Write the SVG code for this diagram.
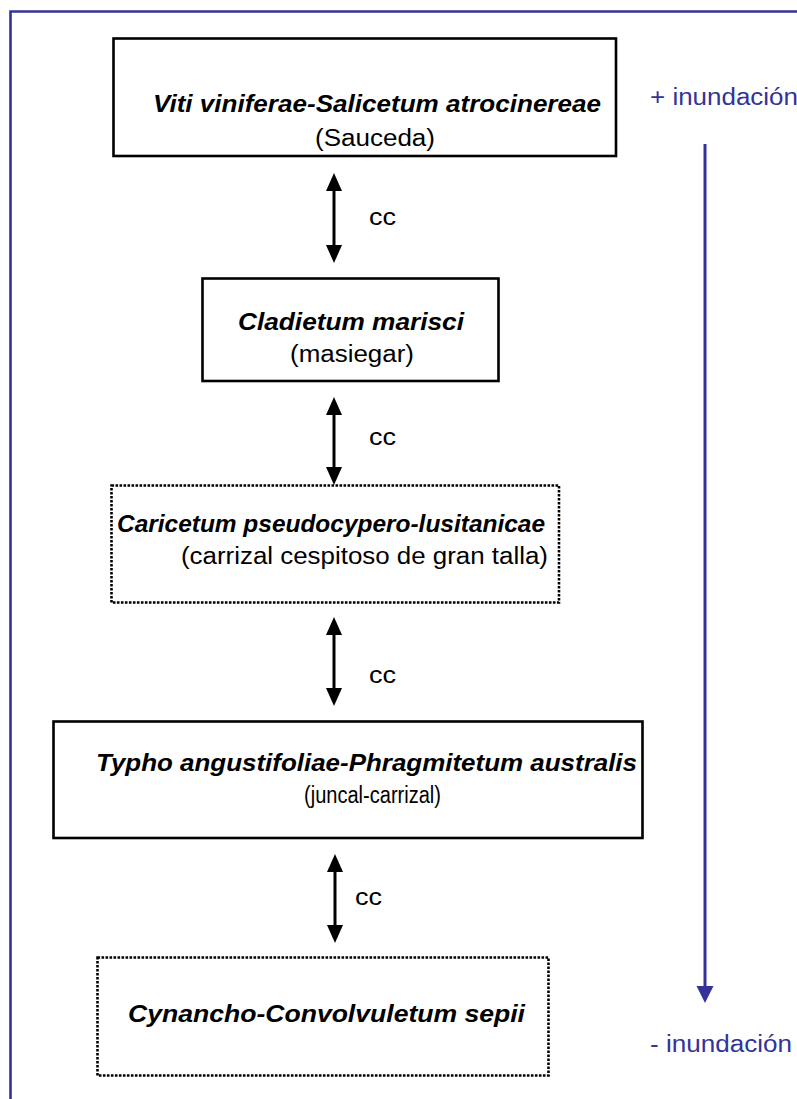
<svg xmlns="http://www.w3.org/2000/svg" width="797" height="1099" viewBox="0 0 797 1099">
  <defs>
    <style>
      .box { fill: #ffffff; stroke: #000000; stroke-width: 2.6; }
      .dotted { stroke-dasharray: 2.6 1.4; }
      .title { font-family: "Liberation Sans", Arial, sans-serif; font-size: 23px; font-weight: bold; font-style: italic; fill: #000000; }
      .sub { font-family: "Liberation Sans", Arial, sans-serif; font-size: 23px; fill: #000000; }
      .cc { font-family: "Liberation Sans", Arial, sans-serif; font-size: 23px; fill: #000000; }
      .blue { font-family: "Liberation Sans", Arial, sans-serif; font-size: 23px; fill: #333399; }
      .link { stroke: #000000; stroke-width: 3; fill: none; }
      .head { fill: #000000; }
    </style>
  </defs>

  <rect width="797" height="1099" fill="#ffffff"/>

  <!-- outer frame (top and left edges) -->
  <g id="frame" fill="none" stroke="#333399" stroke-width="2.6">
    <path d="M10.5 1099 V11.5 H797"/>
  </g>

  <!-- flooding gradient -->
  <g id="gradient">
    <text class="blue" x="650" y="105" textLength="148" lengthAdjust="spacingAndGlyphs">+ inundación</text>
    <line x1="705" y1="144" x2="705" y2="988" stroke="#333399" stroke-width="3"/>
    <polygon points="696.5,986 713.5,986 705,1003" fill="#333399"/>
    <text class="blue" x="650" y="1052" textLength="142" lengthAdjust="spacingAndGlyphs">- inundación</text>
  </g>

  <g id="sauceda-node">
    <rect class="box" x="113.5" y="38.5" width="502.5" height="117.5"/>
    <text class="title" x="153" y="112" textLength="448" lengthAdjust="spacingAndGlyphs">Viti viniferae-Salicetum atrocinereae</text>
    <text class="sub" x="315" y="146" textLength="120" lengthAdjust="spacingAndGlyphs">(Sauceda)</text>
  </g>

  <g id="masiegar-node">
    <rect class="box" x="202.5" y="278.5" width="296" height="102.5"/>
    <text class="title" x="238" y="330" textLength="226" lengthAdjust="spacingAndGlyphs">Cladietum marisci</text>
    <text class="sub" x="290" y="362" textLength="124" lengthAdjust="spacingAndGlyphs">(masiegar)</text>
  </g>

  <g id="carrizal-node">
    <rect class="box dotted" x="111.5" y="485.5" width="447.5" height="117"/>
    <text class="title" x="117" y="532" textLength="428" lengthAdjust="spacingAndGlyphs">Caricetum pseudocypero-lusitanicae</text>
    <text class="sub" x="181" y="564" textLength="367" lengthAdjust="spacingAndGlyphs">(carrizal cespitoso de gran talla)</text>
  </g>

  <g id="juncal-node">
    <rect class="box" x="53.5" y="721.5" width="589" height="116.5"/>
    <text class="title" x="96" y="771" textLength="541" lengthAdjust="spacingAndGlyphs">Typho angustifoliae-Phragmitetum australis</text>
    <text class="sub" x="304" y="803" textLength="137" lengthAdjust="spacingAndGlyphs">(juncal-carrizal)</text>
  </g>

  <g id="cynancho-node">
    <rect class="box dotted" x="97.5" y="957.5" width="451" height="118"/>
    <text class="title" x="128" y="1022" textLength="397" lengthAdjust="spacingAndGlyphs">Cynancho-Convolvuletum sepii</text>
  </g>

  <!-- double-headed contact links -->
  <g id="connectors">
    <line class="link" x1="334" y1="188" x2="334" y2="248"/>
    <polygon class="head" points="334,173 326,191 342,191"/>
    <polygon class="head" points="334,263 326,245 342,245"/>
    <text class="cc" x="369" y="225" textLength="27" lengthAdjust="spacingAndGlyphs">cc</text>

    <line class="link" x1="334" y1="412" x2="334" y2="470"/>
    <polygon class="head" points="334,397 326,415 342,415"/>
    <polygon class="head" points="334,485 326,467 342,467"/>
    <text class="cc" x="369" y="445" textLength="27" lengthAdjust="spacingAndGlyphs">cc</text>

    <line class="link" x1="334" y1="632" x2="334" y2="691"/>
    <polygon class="head" points="334,617 326,635 342,635"/>
    <polygon class="head" points="334,706 326,688 342,688"/>
    <text class="cc" x="369" y="683" textLength="27" lengthAdjust="spacingAndGlyphs">cc</text>

    <line class="link" x1="335" y1="869" x2="335" y2="928"/>
    <polygon class="head" points="335,854 327,872 343,872"/>
    <polygon class="head" points="335,943 327,925 343,925"/>
    <text class="cc" x="355" y="905" textLength="27" lengthAdjust="spacingAndGlyphs">cc</text>
  </g>
</svg>
